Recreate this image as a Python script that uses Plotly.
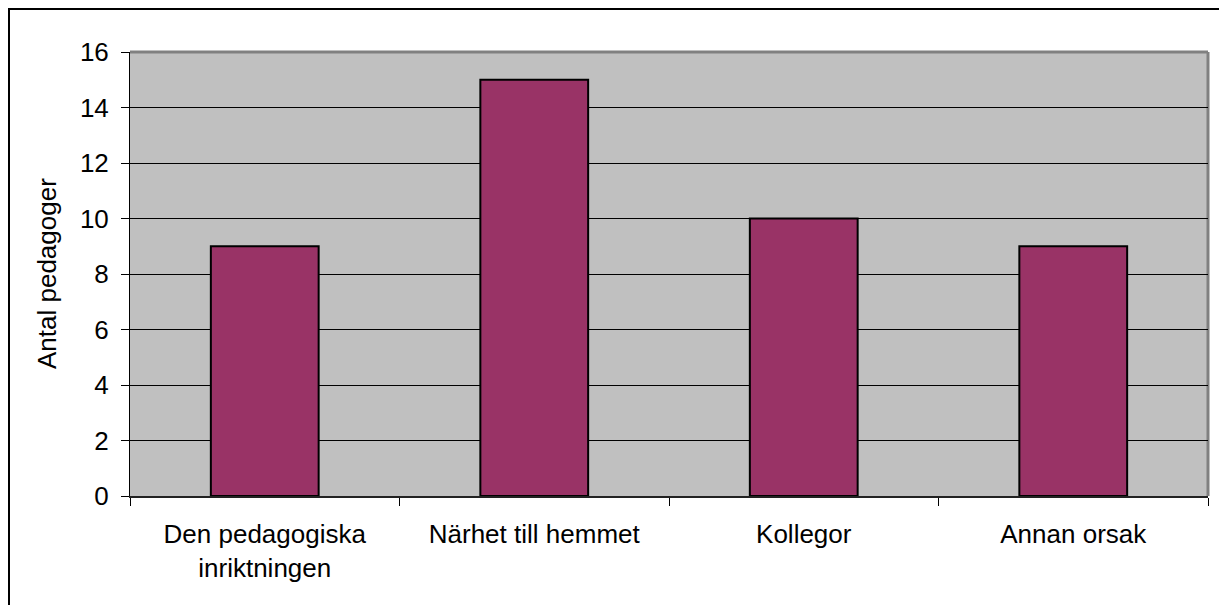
import plotly.graph_objects as go

categories = ["Den pedagogiska<br>inriktningen", "Närhet till hemmet", "Kollegor", "Annan orsak"]
values = [9, 15, 10, 9]
y_ticks = [0, 2, 4, 6, 8, 10, 12, 14, 16]
y_title = "Antal pedagoger"

W, H = 1227, 605
OFF = 8  # page offset of the figure
L, T = 130 - OFF, 52 - OFF
R = W - (1208 - OFF)
B = H - (496 - OFF)
pw, ph = W - L - R, H - T - B

fig = go.Figure(go.Bar(
    x=categories, y=values,
    marker=dict(color="#993366", line=dict(color="black", width=2)),
))

font = dict(family="Liberation Sans, Arial, sans-serif", size=26, color="black")

fig.update_layout(
    width=W, height=H,
    margin=dict(l=L, r=R, t=T, b=B, autoexpand=False),
    paper_bgcolor="white", plot_bgcolor="#C0C0C0",
    bargap=0.6, showlegend=False, font=font,
    xaxis=dict(
        showline=True, linecolor="#222222", linewidth=2,
        ticks="outside", tickson="boundaries", ticklen=8, tickcolor="black", tickwidth=1,
        ticklabelstandoff=14, showgrid=False, tickfont=font, automargin=False,
    ),
    yaxis=dict(
        range=[0, 16], tickvals=y_ticks, showline=True, linecolor="black", linewidth=1,
        ticks="outside", ticklen=8, tickcolor="black", tickwidth=1,
        ticklabelstandoff=7, showgrid=True, gridcolor="black", gridwidth=1,
        zeroline=False, tickfont=font, automargin=False,
    ),
    shapes=[
        dict(type="line", xref="paper", yref="paper", x0=0, x1=1, y0=1, y1=1,
             line=dict(color="#808080", width=3), layer="below"),
        dict(type="line", xref="paper", yref="paper", x0=1, x1=1, y0=0, y1=1,
             line=dict(color="#808080", width=3), layer="below"),
        dict(type="rect", xref="paper", yref="paper",
             x0=(1 - L) / pw, x1=(W + 20 - L) / pw,
             y0=(T + ph - (H + 20)) / ph, y1=(T + ph - 1) / ph,
             line=dict(color="black", width=2), fillcolor="rgba(0,0,0,0)"),
    ],
    annotations=[
        dict(text=y_title, xref="paper", yref="paper",
             x=(47 - OFF - L) / pw, y=0.5, textangle=-90, showarrow=False,
             xanchor="center", yanchor="middle", font=font),
    ],
)

fig.write_html("out.html")
